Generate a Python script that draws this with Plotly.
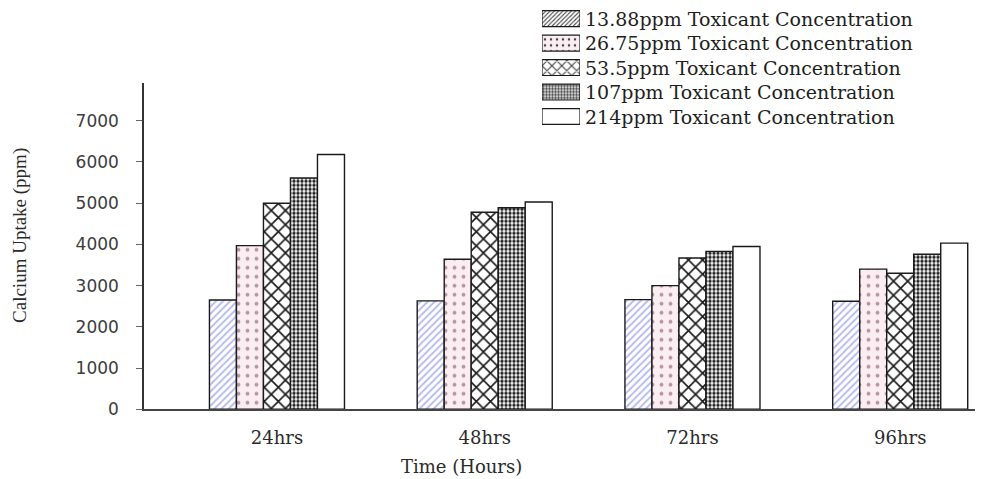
import plotly.graph_objects as go

# Exposure times and toxicant concentrations (ppm)
times = ["24hrs", "48hrs", "72hrs", "96hrs"]
concentrations = ["13.88", "26.75", "53.5", "107", "214"]

# Calcium uptake (ppm) for each concentration across the four exposure times
uptake_13_88 = [2650, 2630, 2660, 2620]
uptake_26_75 = [3970, 3640, 3000, 3400]
uptake_53_5 = [5000, 4780, 3670, 3300]
uptake_107 = [5610, 4890, 3830, 3760]
uptake_214 = [6180, 5030, 3950, 4030]

y_ticks = [0, 1000, 2000, 3000, 4000, 5000, 6000, 7000]

series = [uptake_13_88, uptake_26_75, uptake_53_5, uptake_107, uptake_214]
labels = [f"{c}ppm Toxicant Concentration" for c in concentrations]

# Fill styles: diagonal hatch, dotted pink, cross-hatch, dense checker, plain
fills = [
    dict(bg="#ffffff", shape="/", fg="#b3baee", size=5, solidity=0.35),
    dict(bg="#fbeef3", shape=".", fg="#b596a3", size=9, solidity=0.14),
    dict(bg="#ffffff", shape="x", fg="#1a1a1a", size=10, solidity=0.3),
    dict(bg="#ffffff", shape=".", fg="#222222", size=4, solidity=0.55),
    dict(bg="#ffffff", shape="", fg="#000000", size=8, solidity=0.3),
]

W, H = 985, 479
# plot frame in pixels
px_left, px_right, px_top, px_bottom = 144, 975, 85, 418

fig = go.Figure()

for vals, lab, f in zip(series, labels, fills):
    fig.add_trace(go.Bar(
        x=times, y=vals, name=lab,
        marker=dict(
            color=f["bg"],
            line=dict(color="#1a1a1a", width=1.4),
            pattern=dict(shape=f["shape"], fgcolor=f["fg"], bgcolor=f["bg"],
                         size=f["size"], solidity=f["solidity"],
                         fillmode="overlay", fgopacity=1),
        ),
        showlegend=False, hoverinfo="skip",
    ))

# Key swatches drawn as small horizontal bars in their own axes
fig.add_trace(go.Bar(
    x=[1] * len(labels), y=list(range(len(labels))), orientation="h",
    xaxis="x2", yaxis="y2",
    marker=dict(
        color=[f["bg"] for f in fills],
        line=dict(color="#1a1a1a", width=1.2),
        pattern=dict(
            shape=[f["shape"] for f in fills],
            fgcolor=[f["fg"] for f in fills],
            bgcolor=[f["bg"] for f in fills],
            size=[max(3, f["size"] - 3) for f in fills],
            solidity=[f["solidity"] for f in fills],
            fillmode="overlay", fgopacity=1,
        ),
    ),
    showlegend=False, hoverinfo="skip",
))

annotations = []
for i, lab in enumerate(labels):
    annotations.append(dict(
        x=583 / W, y=i, xref="paper", yref="y2", text=lab, showarrow=False,
        xanchor="left", yanchor="middle",
        font=dict(family="DejaVu Serif", size=19, color="#1e1e1e"),
    ))

# Axis titles
annotations.append(dict(
    x=20 / W, y=(H - 241) / H, xref="paper", yref="paper",
    text="Calcium Uptake (ppm)", textangle=-90, showarrow=False,
    xanchor="center", yanchor="middle",
    font=dict(family="Liberation Serif", size=19, color="#2a2a2a"),
))
annotations.append(dict(
    x=461 / W, y=(H - 476) / H, xref="paper", yref="paper",
    text="Time (Hours)", showarrow=False, xanchor="center", yanchor="middle",
    font=dict(family="DejaVu Serif", size=18, color="#2a2a2a"),
))

fig.update_layout(
    width=W, height=H,
    margin=dict(l=0, r=0, t=0, b=0),
    paper_bgcolor="white", plot_bgcolor="white",
    barmode="group", bargap=0.35, bargroupgap=0.0,
    xaxis=dict(
        domain=[px_left / W, px_right / W],
        type="category", range=[-0.64, 3.36],
        showline=True, linecolor="#444444", linewidth=1.5,
        ticks="", showgrid=False, zeroline=False,
        tickfont=dict(family="DejaVu Serif", size=18, color="#2a2a2a"),
        ticklabelstandoff=11,
    ),
    yaxis=dict(
        domain=[(H - px_bottom) / H, (H - px_top) / H],
        range=[0, 7910],
        tickvals=y_ticks, ticktext=[str(t) for t in y_ticks],
        showline=True, linecolor="#333333", linewidth=1.5,
        ticks="outside", ticklen=6, tickcolor="#666666", tickwidth=1,
        showgrid=False, zeroline=False,
        tickfont=dict(family="DejaVu Sans", size=17, color="#3c3c3c"),
        ticklabelstandoff=14,
    ),
    xaxis2=dict(
        domain=[542 / W, 580 / W], range=[0, 1], anchor="y2",
        visible=False, fixedrange=True,
    ),
    yaxis2=dict(
        domain=[(H - 131.5) / H, (H - 6.5) / H], range=[4.5, -0.5], anchor="x2",
        visible=False, fixedrange=True,
    ),
    annotations=annotations,
)

fig.write_html("out.html")
